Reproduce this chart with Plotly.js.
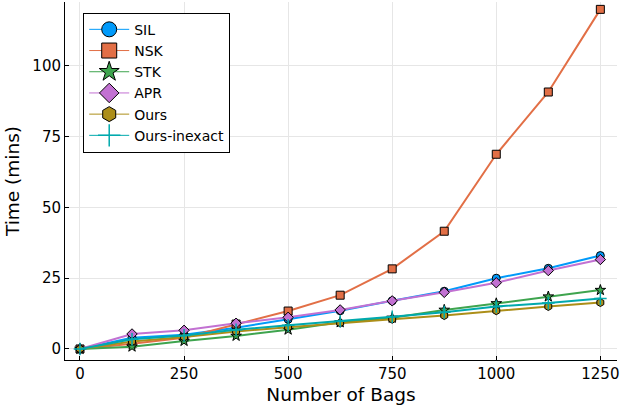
<!DOCTYPE html>
<html>
<head>
<meta charset="utf-8">
<script src="https://cdn.plot.ly/plotly-3.0.1.min.js"></script>
<style>
  html, body { margin: 0; padding: 0; background: #fff; }
  #chart { width: 620px; height: 407px; }
</style>
</head>
<body>
<div id="chart"></div>
<script>
// number of bags on the x axis
const bags = [0, 125, 250, 375, 500, 625, 750, 875, 1000, 1125, 1250];

// time in minutes, one array per method
const silTime = [0, 4, 5, 7.5, 10.5, 13.5, 17, 20.4, 25, 28.5, 33];
const nskTime = [0, 1.8, 4, 8.8, 13.4, 19, 28.3, 41.6, 68.8, 90.8, 120];
const stkTime = [0, 0.8, 2.8, 4.6, 6.8, 9.4, 11, 13.8, 16.1, 18.5, 20.8];
const aprTime = [0, 5.3, 6.6, 9.1, 11.2, 13.8, 17, 20, 23.4, 27.7, 31.6];
const oursTime = [0, 2.6, 4.2, 6.2, 7.7, 9.2, 10.5, 11.8, 13.5, 15, 16.4];
const oursInexactTime = [0, 3.4, 4.8, 6.8, 8.4, 9.8, 11.4, 13, 15, 16.2, 17.8];

const names = ['SIL', 'NSK', 'STK', 'APR', 'Ours', 'Ours-inexact'];
const series = [silTime, nskTime, stkTime, aprTime, oursTime, oursInexactTime];
const colors = ['#009AFA', '#E26F46', '#3EA44E', '#C271D2', '#AC8E18', '#00A9AD'];
const symbols = ['circle', 'square', 'star', 'diamond', 'hexagon', 'cross-thin'];

function markerFor(i, size) {
  const thin = symbols[i] === 'cross-thin';
  return {
    symbol: symbols[i],
    size: thin ? size + 1 : size,
    color: colors[i],
    line: { color: thin ? colors[i] : '#000', width: thin ? 1.5 : 1 }
  };
}

// the real lines (legend hidden, the legend uses bigger markers like the original)
const traces = series.map((ys, i) => ({
  type: 'scatter',
  mode: 'lines+markers',
  name: names[i],
  x: bags,
  y: ys,
  showlegend: false,
  line: { color: colors[i], width: 2 },
  marker: markerFor(i, 8)
}));

// legend entries only
names.forEach((n, i) => {
  traces.push({
    type: 'scatter',
    mode: 'lines+markers',
    name: n,
    x: [null],
    y: [null],
    line: { color: colors[i], width: 1 },
    marker: markerFor(i, 15)
  });
});

const axisCommon = {
  showline: true,
  linecolor: '#000',
  linewidth: 1,
  mirror: false,
  ticks: 'inside',
  ticklen: 4,
  tickcolor: '#000',
  showgrid: true,
  gridcolor: '#e6e6e6',
  gridwidth: 1,
  zeroline: false,
  tickfont: { family: 'DejaVu Sans', size: 15, color: '#000' }
};

const layout = {
  width: 620,
  height: 407,
  margin: { l: 65, r: 3, t: 2, b: 47 },
  paper_bgcolor: '#fff',
  plot_bgcolor: '#fff',
  font: { family: 'DejaVu Sans', color: '#000' },
  xaxis: Object.assign({}, axisCommon, {
    range: [-36, 1290],
    tickvals: [0, 250, 500, 750, 1000, 1250],
    title: { text: 'Number of Bags', font: { family: 'DejaVu Sans', size: 18.5 }, standoff: 6 }
  }),
  yaxis: Object.assign({}, axisCommon, {
    range: [-3.9, 122.6],
    tickvals: [0, 25, 50, 75, 100],
    title: { text: 'Time (mins)', font: { family: 'DejaVu Sans', size: 18.5 }, standoff: 7 }
  }),
  showlegend: true,
  legend: {
    x: 0.033,
    y: 0.97,
    xanchor: 'left',
    yanchor: 'top',
    bgcolor: '#fff',
    bordercolor: '#000',
    borderwidth: 1,
    tracegroupgap: 0,
    itemwidth: 40,
    font: { family: 'DejaVu Sans', size: 14, color: '#000' }
  }
};

Plotly.newPlot('chart', traces, layout, { staticPlot: true, displayModeBar: false });
</script>
</body>
</html>
